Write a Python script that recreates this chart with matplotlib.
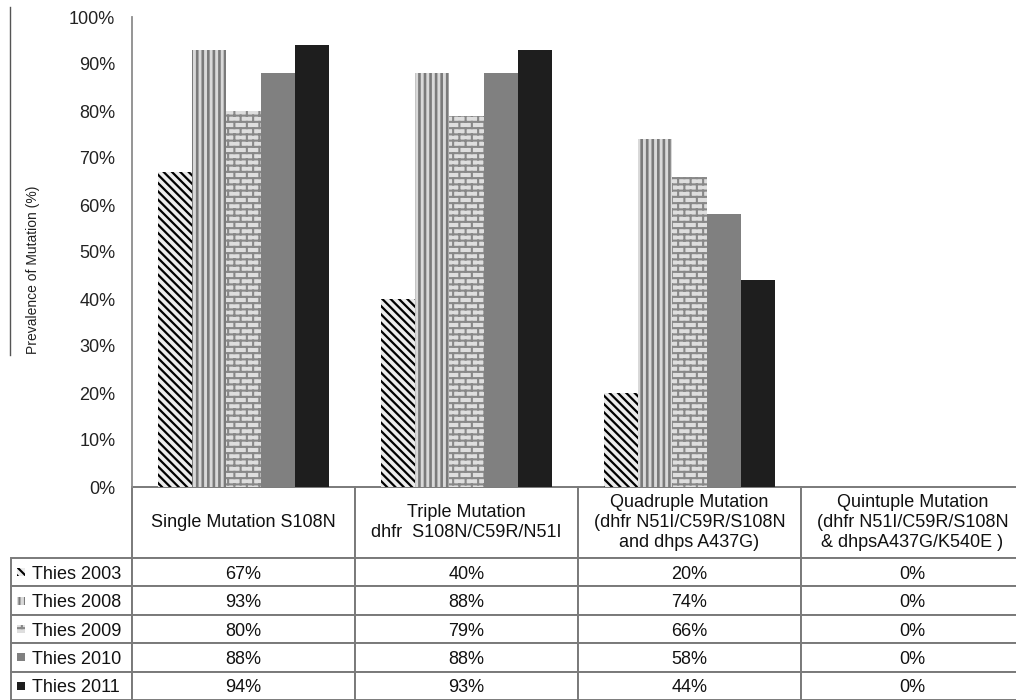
import warnings
import numpy as np
import matplotlib
matplotlib.use('Agg')
import matplotlib.pyplot as plt
import matplotlib.hatch as mhatch
from matplotlib.path import Path
from matplotlib.table import Table
from matplotlib.patches import Rectangle
from matplotlib.lines import Line2D

warnings.filterwarnings('ignore')

# data
categories = ['Single Mutation S108N',
              'Triple Mutation\ndhfr  S108N/C59R/N51I',
              'Quadruple Mutation\n(dhfr N51I/C59R/S108N\nand dhps A437G)',
              'Quintuple Mutation\n(dhfr N51I/C59R/S108N\n& dhpsA437G/K540E )']
years = ['Thies 2003', 'Thies 2008', 'Thies 2009', 'Thies 2010', 'Thies 2011']
thies_2003 = [67, 40, 20, 0]
thies_2008 = [93, 88, 74, 0]
thies_2009 = [80, 79, 66, 0]
thies_2010 = [88, 88, 58, 0]
thies_2011 = [94, 93, 44, 0]
series = [thies_2003, thies_2008, thies_2009, thies_2010, thies_2011]
yticks = list(range(0, 101, 10))


class BrickHatch(mhatch.HatchPatternBase):
    # brick wall pattern, selected with the 'b' hatch character
    def __init__(self, hatch, density):
        n = hatch.count('b')
        self.rows = 16 * n
        self.cols = 8 * n
        self.num_vertices = 2 * (self.rows + (self.rows + 1) * self.cols) if n else 0

    def set_vertices_and_codes(self, vertices, codes):
        R, C = self.rows, self.cols
        ys = (np.arange(R) + 0.5) / R
        segs = [((0.0, y), (1.0, y)) for y in ys]
        for i in range(R):
            y0, y1 = ys[i], ys[i] + 1.0 / R
            for j in range(C):
                x = (j + 0.25 + 0.5 * (i % 2)) / C
                if y1 > 1:
                    segs.append(((x, y0), (x, 1.0)))
                    segs.append(((x, 0.0), (x, y1 - 1.0)))
                else:
                    segs.append(((x, y0), (x, y1)))
        vertices[:] = np.array(segs).reshape(-1, 2)
        codes[0::2] = Path.MOVETO
        codes[1::2] = Path.LINETO


mhatch._hatch_types.append(BrickHatch)

styles = [
    dict(fc='#ececec', ec='black', hatch='\\\\\\\\', hlw=1.6),
    dict(fc='#d9d9d9', ec='#7a7a7a', hatch='|||', hlw=1.9),
    dict(fc='#dedede', ec='#888888', hatch='b', hlw=1.5),
    dict(fc='#808080', ec='#808080', hatch=None, hlw=1.0),
    dict(fc='#1e1e1e', ec='#1e1e1e', hatch=None, hlw=1.0),
]

plt.rcParams['font.family'] = ['Liberation Sans', 'DejaVu Sans']

W, H = 1016, 700
fig = plt.figure(figsize=(W / 100, H / 100), dpi=100)

# layout in pixels
ax_l, ax_r, ax_t, ax_b = 132, 1024, 17, 487
lab_l = 11
head_h = 71
row_h = (H - ax_b - head_h) / len(years)
aw, ah = ax_r - ax_l, ax_b - ax_t

ax = fig.add_axes([ax_l / W, 1 - ax_b / H, aw / W, ah / H])

x = np.arange(len(categories))
group = 0.767
bw = group / len(series)
for k, (vals, st) in enumerate(zip(series, styles)):
    with plt.rc_context({'hatch.linewidth': st['hlw']}):
        bars = ax.bar(x - group / 2 + bw * (k + 0.5), vals, bw,
                      facecolor=st['fc'], edgecolor=st['ec'], hatch=st['hatch'],
                      linewidth=0)
    for b in bars:
        if hasattr(b, 'set_hatch_linewidth'):
            b.set_hatch_linewidth(st['hlw'])

ax.set_xlim(-0.5, len(categories) - 0.5)
ax.set_ylim(0, 100)
ax.set_yticks(yticks)
ax.set_yticklabels([f'{v}%' for v in yticks])
ax.set_xticks([])
ax.tick_params(axis='y', length=0, pad=12, labelsize=13, labelcolor='#222222')
for s in ['top', 'right', 'bottom']:
    ax.spines[s].set_visible(False)
ax.spines['left'].set_color('#8c8c8c')
ax.spines['left'].set_linewidth(1.3)
ax.set_ylabel('Prevalence of Mutation (%)', fontsize=10, color='#222222')
ax.yaxis.set_label_coords((40 - ax_l) / aw, (ax_b - 270) / ah)

# data table below the plot (cell sizes in axes units)
col_w = 1.0 / len(categories)
lab_w = (ax_l - lab_l) / aw
tab = Table(ax, bbox=[0, (ax_b - H) / ah, 1, (H - ax_b) / ah])
tab.auto_set_font_size(False)
for j, cat in enumerate(categories):
    tab.add_cell(0, j, width=col_w, height=head_h / ah, text=cat, loc='center')
for i, (yr, vals) in enumerate(zip(years, series)):
    c = tab.add_cell(i + 1, -1, width=lab_w, height=row_h / ah, text=yr, loc='left')
    c.PAD = 21 / (ax_l - lab_l)
    for j, v in enumerate(vals):
        tab.add_cell(i + 1, j, width=col_w, height=row_h / ah, text=f'{v}%', loc='center')
for (r, cidx), cell in tab.get_celld().items():
    cell.set_edgecolor('#7a7a7a')
    cell.set_linewidth(1.4)
    cell.get_text().set_fontsize(13)
    cell.get_text().set_color('#111111')
    if r > 0:
        cell.get_text().set_va('center_baseline')
ax.add_table(tab)

# legend keys inside the row label cells
for i, st in enumerate(styles):
    cy = ax_b + head_h + row_h * (i + 0.5)
    key = Rectangle((17 / W, 1 - (cy + 4) / H), 8 / W, 8 / H, transform=fig.transFigure,
                    facecolor=st['fc'], edgecolor=st['ec'], hatch=st['hatch'], linewidth=0)
    if hasattr(key, 'set_hatch_linewidth'):
        key.set_hatch_linewidth(min(st['hlw'], 1.5))
    fig.add_artist(key)

# stray border line on the left of the original figure
fig.add_artist(Line2D([10 / W, 10 / W], [1 - 7 / H, 1 - 355 / H], transform=fig.transFigure,
                      color='#555555', linewidth=1))

fig.savefig('out.png', dpi=100)
